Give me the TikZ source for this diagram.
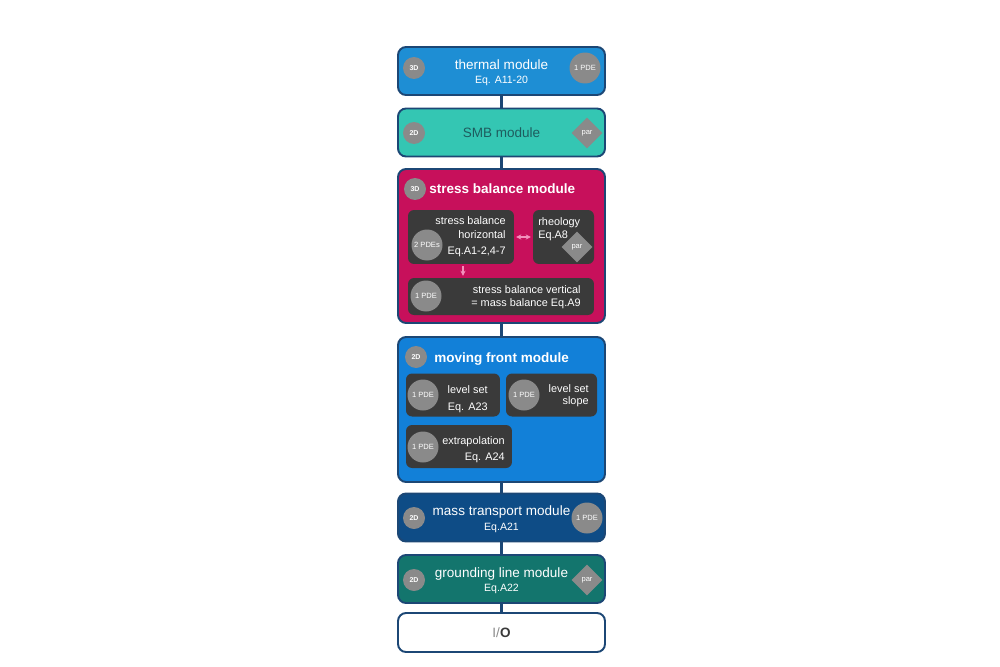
\documentclass[tikz,border=0pt]{standalone}
\usepackage{fontspec}
\setmainfont{Liberation Sans}
\usetikzlibrary{arrows.meta, shapes.geometric, positioning}
\definecolor{thermalblue}{HTML}{1E8ED4}
\definecolor{smbteal}{HTML}{34C6B3}
\definecolor{smbtext}{HTML}{1E5C5E}
\definecolor{stresspink}{HTML}{C7105B}
\definecolor{frontblue}{HTML}{1280D8}
\definecolor{massblue}{HTML}{0E4C86}
\definecolor{groundteal}{HTML}{13756D}
\definecolor{edgeblue}{HTML}{1C4775}
\definecolor{innergray}{HTML}{3A3A3A}
\definecolor{badgegray}{HTML}{8A8A8A}
\definecolor{arrowpink}{HTML}{F291BC}
\tikzset{
    module/.style={draw=edgeblue, line width=1.1pt, rounded corners=0.16cm, minimum width=4.14cm, minimum height=0.96cm},
    sub/.style={fill=innergray, rounded corners=0.12cm},
    badge/.style={circle, fill=badgegray, text=white, inner sep=0pt, minimum size=0.44cm, font=\fontsize{4}{4}\selectfont\bfseries},
    pde/.style={circle, fill=badgegray, text=white, inner sep=0pt, minimum size=0.62cm, font=\fontsize{4.3}{5}\selectfont},
    paramdia/.style={diamond, fill=badgegray, text=white, inner sep=0pt, minimum size=0.62cm, font=\fontsize{4.3}{5}\selectfont},
    title/.style={text=white, inner sep=0pt, font=\fontsize{7.7}{9}\selectfont},
    eqtext/.style={text=white, inner sep=0pt, font=\fontsize{6}{7}\selectfont},
    subtext/.style={text=white, inner sep=0pt, font=\fontsize{6.2}{7.6}\selectfont},
    link/.style={edgeblue, line width=1.5pt},
    pinkarrow/.style={arrowpink, line width=0.6pt, shorten >=1pt, shorten <=1pt}
}
\begin{document}
\begin{tikzpicture}[x=0.02cm, y=-0.02cm]
    \useasboundingbox (0, 0) rectangle (1000, 666);
    % module boxes
    \node[module, fill=thermalblue] (thermal) at (501.5, 71) {};
    \node[module, fill=smbteal] (smb) at (501.5, 132.5) {};
    \node[module, fill=stresspink, minimum height=3.08cm] (stress) at (501.5, 246) {};
    \node[module, fill=frontblue, minimum height=2.9cm] (front) at (501.5, 409.5) {};
    \node[module, fill=massblue] (mass) at (501.5, 517.5) {};
    \node[module, fill=groundteal] (ground) at (501.5, 579) {};
    \node[module, fill=white, minimum height=0.78cm] (io) at (501.5, 632.5) {};
    \draw[link]
    (thermal) edge (smb)
    (smb) edge (stress)
    (stress) edge (front)
    (front) edge (mass)
    (mass) edge (ground)
    (ground) edge (io);

    % thermal
    \node[title] (thermalt) at (501.5, 65) {thermal module};
    \node[eqtext] (thermaleq) at (501.5, 81) {Eq. A11-20};
    \node[badge] (thermaldim) at (414, 68) {3D};
    \node[pde] (thermalpde) at (585, 68) {1 PDE};

    % SMB
    \node[title, text=smbtext] (smbt) at (501.5, 133) {SMB module};
    \node[badge] (smbdim) at (414, 133) {2D};
    \node[paramdia] (smbpar) at (587, 133) {par};

    % stress balance
    \node[badge] (stressdim) at (415, 189) {3D};
    \node[title, anchor=west, font=\fontsize{7.7}{9}\selectfont\bfseries] (stresst) at (429, 189) {stress balance module};
    \node[sub, minimum width=2.12cm, minimum height=1.08cm] (sbh) at (461, 237) {};
    \node[sub, minimum width=1.22cm, minimum height=1.08cm] (rheo) at (563.5, 237) {};
    \node[sub, minimum width=3.72cm, minimum height=0.74cm] (sbv) at (501, 296.5) {};
    \node[subtext, anchor=east, align=right] (sbht) at (506, 237) {stress balance\\horizontal\\[2pt]Eq.A1-2,4-7};
    \node[pde] (sbhpde) at (427, 245) {2 PDEs};
    \node[subtext, anchor=west, align=left] (rheot) at (538, 229) {rheology\\Eq.A8};
    \node[paramdia] (rheopar) at (577, 247) {par};
    \node[subtext, anchor=east, align=right] (sbvt) at (581, 297) {stress balance vertical\\= mass balance Eq.A9};
    \node[pde] (sbvpde) at (426, 296) {1 PDE};
    \draw[pinkarrow, {Stealth[length=3pt, width=3pt]}-{Stealth[length=3pt, width=3pt]}] (sbh) -- (rheo);
    \draw[pinkarrow, -{Stealth[length=3pt, width=3pt]}] ([xshift=0.04cm]sbh.south) -- ([xshift=0.04cm]sbh.south |- sbv.north);

    % moving front
    \node[badge] (frontdim) at (416, 357) {2D};
    \node[title, anchor=west, font=\fontsize{7.7}{9}\selectfont\bfseries] (frontt) at (434, 359) {moving front module};
    \node[sub, minimum width=1.88cm, minimum height=0.86cm] (ls) at (453, 395) {};
    \node[sub, minimum width=1.82cm, minimum height=0.86cm] (lss) at (551.5, 395) {};
    \node[sub, minimum width=2.12cm, minimum height=0.86cm] (ext) at (459, 446.5) {};
    \node[pde] (lspde) at (423, 395) {1 PDE};
    \node[pde] (lsspde) at (524, 395) {1 PDE};
    \node[pde] (extpde) at (423, 447) {1 PDE};
    \node[subtext, anchor=east, align=right, font=\fontsize{6.2}{9.6}\selectfont] (lst) at (488, 399) {level set\\Eq. A23};
    \node[subtext, anchor=east, align=right, font=\fontsize{6.2}{6.9}\selectfont] (lsst) at (589, 396) {level set\\slope};
    \node[subtext, anchor=east, align=right, font=\fontsize{6.2}{9}\selectfont] (extt) at (505, 450) {extrapolation\\Eq. A24};

    % mass transport
    \node[title] (masst) at (501.5, 512) {mass transport module};
    \node[eqtext] (masseq) at (501.5, 528) {Eq.A21};
    \node[badge] (massdim) at (414, 518) {2D};
    \node[pde] (masspde) at (587, 518) {1 PDE};

    % grounding line
    \node[title] (groundt) at (501.5, 574) {grounding line module};
    \node[eqtext] (groundeq) at (501.5, 589) {Eq.A22};
    \node[badge] (grounddim) at (414, 580) {2D};
    \node[paramdia] (groundpar) at (587, 580) {par};

    % I/O
    \node[title, text=innergray] (iot) at (501.5, 633) {\textcolor{badgegray}{I/}\textbf{O}};
\end{tikzpicture}
\end{document}
